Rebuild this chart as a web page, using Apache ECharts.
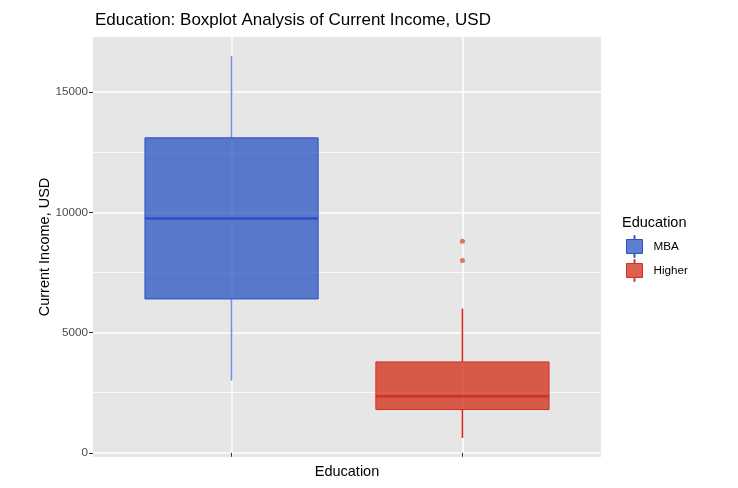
<!DOCTYPE html>
<html>
<head>
<meta charset="utf-8">
<script src="https://cdn.jsdelivr.net/npm/echarts@6/dist/echarts.min.js"></script>
<style>
   html, body { margin: 0; padding: 0; background: #fff; }
   #chart { width: 738px; height: 488px; }
</style>
</head>
<body>
<div id="chart"></div>
<script>
// data
var groups = ['MBA', 'Higher'];
var mbaStats = [3000, 6400, 9750, 13100, 16500];      // low whisker, Q1, median, Q3, high whisker
var higherStats = [620, 1800, 2350, 3780, 6000];
var higherOutliers = [8800, 8000];
var yTicks = [0, 5000, 10000, 15000];

var boxColors = [
   { fill: 'rgba(43,85,196,0.76)', line: '#2c50c4', whisker: 'rgba(60,100,220,0.7)' },
   { fill: 'rgba(210,45,22,0.76)', line: '#d22f26', whisker: '#d52a22' }
];

var FONT = '"Liberation Sans", Arial, sans-serif';

// draws one ggplot-like box (no caps on whiskers)
function renderBox(params, api) {
   var c = boxColors[params.seriesIndex];
   var x = api.value(0);
   var lo = api.coord([x, api.value(1)]);
   var q1 = api.coord([x, api.value(2)]);
   var md = api.coord([x, api.value(3)]);
   var q3 = api.coord([x, api.value(4)]);
   var hi = api.coord([x, api.value(5)]);
   var w = api.size([0.75, 0])[0];
   return {
      type: 'group',
      children: [
         { type: 'line', shape: { x1: hi[0], y1: hi[1], x2: q3[0], y2: q3[1] }, style: { stroke: c.whisker, lineWidth: 1.6 } },
         { type: 'line', shape: { x1: q1[0], y1: q1[1], x2: lo[0], y2: lo[1] }, style: { stroke: c.whisker, lineWidth: 1.6 } },
         { type: 'rect', shape: { x: q3[0] - w / 2, y: q3[1], width: w, height: q1[1] - q3[1] }, style: { fill: c.fill, stroke: c.line, lineWidth: 1 } },
         { type: 'line', shape: { x1: md[0] - w / 2, y1: md[1], x2: md[0] + w / 2, y2: md[1] }, style: { stroke: c.line, lineWidth: 2.5 } }
      ]
   };
}

var chart = echarts.init(document.getElementById('chart'), null, { renderer: 'canvas' });

var option = {
   animation: false,
   backgroundColor: '#ffffff',
   textStyle: { fontFamily: FONT },
   title: [
      {
         text: 'Education: Boxplot Analysis of Current Income, USD',
         left: 95, top: 12, padding: 0,
         textStyle: { fontFamily: FONT, fontSize: 17, fontWeight: 'normal', color: '#000' }
      },
      {
         text: 'Education',
         left: 622, top: 215, padding: 0,
         textStyle: { fontFamily: FONT, fontSize: 14.5, fontWeight: 'normal', color: '#000' }
      }
   ],
   legend: {
      orient: 'vertical',
      left: 626, top: 235, padding: 0,
      itemWidth: 16, itemHeight: 22, itemGap: 1,
      icon: 'path://M7.5,0h1v4h7.5v14h-7.5v4h-1v-4h-7.5v-14h7.5z',
      textStyle: { fontFamily: FONT, fontSize: 11.7, color: '#000', padding: [0, 0, 0, 6] },
      data: [
         { name: groups[0], itemStyle: { color: boxColors[0].fill, borderColor: boxColors[0].line, borderWidth: 1 } },
         { name: groups[1], itemStyle: { color: boxColors[1].fill, borderColor: boxColors[1].line, borderWidth: 1 } }
      ]
   },
   grid: {
      left: 93, right: 137, top: 37, bottom: 31,
      show: true, backgroundColor: '#e6e6e6', borderWidth: 0
   },
   xAxis: {
      type: 'value',
      min: 0.4, max: 2.6, splitNumber: 2,
      name: 'Education', nameLocation: 'middle', nameGap: 7,
      nameTextStyle: { fontFamily: FONT, fontSize: 14.5, color: '#000' },
      axisLine: { show: false },
      axisTick: { show: true, length: 4, customValues: [1, 2], lineStyle: { color: '#333' } },
      axisLabel: { show: false },
      splitLine: { show: true, lineStyle: { color: '#ffffff', width: 1.5 } }
   },
   yAxis: {
      type: 'value',
      min: -174, max: 17294, splitNumber: 4,
      name: 'Current Income, USD', nameLocation: 'middle', nameGap: 41, nameMoveOverlap: false,
      nameTextStyle: { fontFamily: FONT, fontSize: 14.5, color: '#000' },
      axisLine: { show: false },
      axisTick: { show: true, length: 4, customValues: yTicks, lineStyle: { color: '#333' } },
      axisLabel: {
         customValues: yTicks, margin: 5, fontFamily: FONT, fontSize: 11.7, color: '#4d4d4d',
         formatter: function (v) { return String(v); }
      },
      minorTick: { show: false, splitNumber: 2 },
      splitLine: { show: true, lineStyle: { color: '#ffffff', width: 1.5 } },
      minorSplitLine: { show: true, lineStyle: { color: '#ffffff', width: 0.8 } }
   },
   series: [
      {
         name: groups[0], type: 'custom', renderItem: renderBox,
         itemStyle: { color: boxColors[0].fill, borderColor: boxColors[0].line },
         encode: { x: 0, y: [1, 2, 3, 4, 5] },
         data: [[1].concat(mbaStats)]
      },
      {
         name: groups[1], type: 'custom', renderItem: renderBox,
         itemStyle: { color: boxColors[1].fill, borderColor: boxColors[1].line },
         encode: { x: 0, y: [1, 2, 3, 4, 5] },
         data: [[2].concat(higherStats)]
      },
      {
         name: groups[1], type: 'scatter', symbolSize: 5,
         itemStyle: { color: 'rgba(210,45,22,0.8)' },
         data: higherOutliers.map(function (v) { return [2, v]; })
      }
   ]
};

chart.setOption(option);
</script>
</body>
</html>
